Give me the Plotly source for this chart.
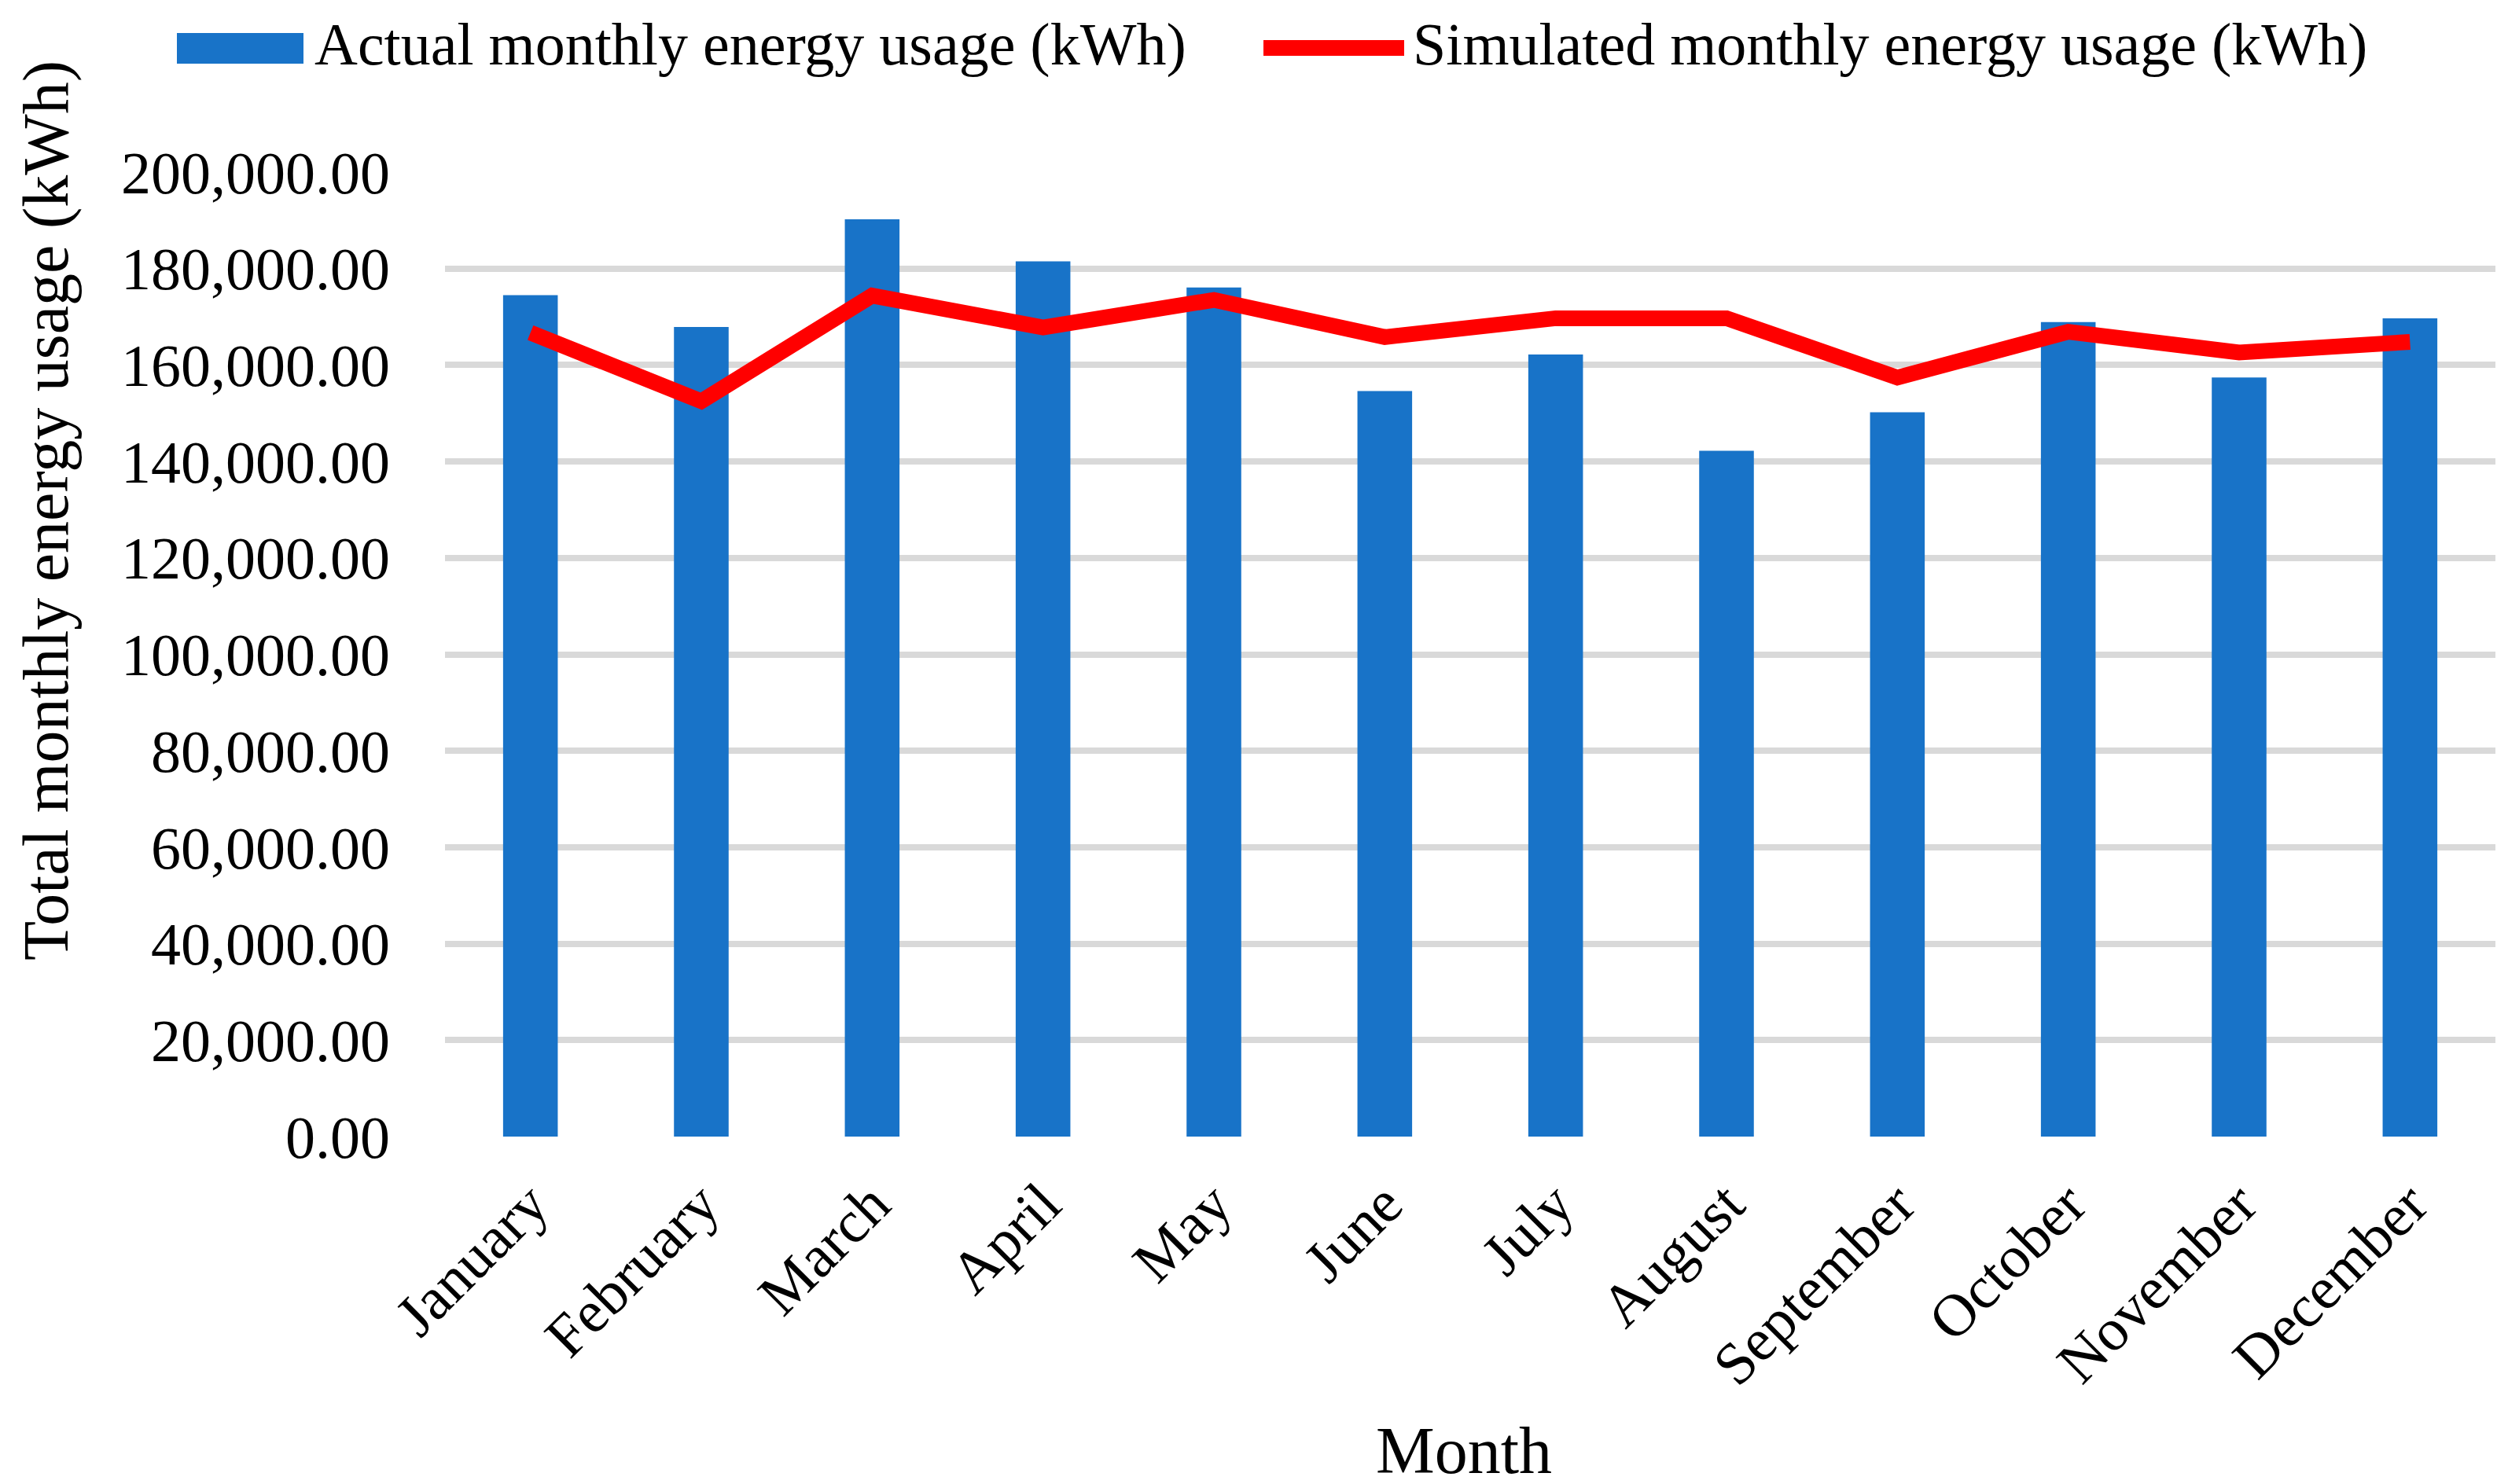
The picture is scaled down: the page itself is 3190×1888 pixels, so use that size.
import plotly.graph_objects as go

months = ["January", "February", "March", "April", "May", "June", "July",
          "August", "September", "October", "November", "December"]
actual_kwh = [174500, 167900, 190200, 181500, 176100, 154600, 162200,
              142200, 150200, 168900, 157400, 169700]
simulated_kwh = [166700, 152500, 174400, 167800, 173500, 165800, 169700,
                 169700, 157400, 166900, 162600, 164800]
y_ticks = [0, 20000, 40000, 60000, 80000, 100000, 120000, 140000,
           160000, 180000, 200000]
y_tick_labels = [f"{v:,.2f}" for v in y_ticks]

legend_actual = "Actual monthly energy usage (kWh)"
legend_sim = "Simulated monthly energy usage (kWh)"
x_title = "Month"
y_title = "Total monthly energy usage (kWh)"

FONT = "Liberation Serif, Times New Roman, serif"
BLUE = "#1873c8"
RED = "#ff0000"

W, H = 3190, 1888
ml, mr, mt, mb = 558, 24, 211, 450
PW, PH = W - ml - mr, H - mt - mb


def px(x):
    return (x - ml) / PW


def py(y):
    return (H - mb - y) / PH


fig = go.Figure()
fig.add_trace(go.Bar(x=months, y=actual_kwh, name=legend_actual,
                     marker=dict(color=BLUE, line=dict(width=0))))
fig.add_trace(go.Scatter(x=months, y=simulated_kwh, name=legend_sim,
                         mode="lines", line=dict(color=RED, width=20)))

fig.update_layout(
    width=W, height=H,
    margin=dict(l=ml, r=mr, t=mt, b=mb, autoexpand=False),
    paper_bgcolor="white", plot_bgcolor="white",
    font=dict(family=FONT, color="black", size=76),
    bargap=0.68,
    showlegend=False,
)
fig.update_xaxes(
    type="category", tickangle=-45, tickfont=dict(size=76),
    showgrid=False, showline=False, ticks="", ticklabelstandoff=25,
    automargin=False,
)
fig.update_yaxes(
    range=[0, 200000], tickvals=y_ticks, ticktext=y_tick_labels,
    tickfont=dict(size=76), showgrid=True, gridcolor="#d9d9d9", gridwidth=8,
    zeroline=False, showline=False, ticks="", ticklabelstandoff=69,
    automargin=False,
)

# Axis titles
fig.add_annotation(text=x_title, xref="paper", yref="paper",
                   x=px(1854), y=py(1886), xanchor="center", yanchor="bottom",
                   showarrow=False, font=dict(size=84, family=FONT))
fig.add_annotation(text=y_title, xref="paper", yref="paper", textangle=-90,
                   x=px(50), y=py(642), xanchor="center", yanchor="middle",
                   showarrow=False, font=dict(size=82, family=FONT))

# Legend (drawn to match reference proportions)
fig.add_shape(type="rect", xref="paper", yref="paper",
              x0=px(217), x1=px(378), y0=py(73), y1=py(34),
              fillcolor=BLUE, line=dict(width=0))
fig.add_shape(type="line", xref="paper", yref="paper",
              x0=px(1599), x1=px(1778), y0=py(53), y1=py(53),
              line=dict(color=RED, width=20))
fig.add_annotation(text=legend_actual, xref="paper", yref="paper",
                   x=px(390), y=py(48), xanchor="left", yanchor="middle",
                   showarrow=False, font=dict(size=76, family=FONT))
fig.add_annotation(text=legend_sim, xref="paper", yref="paper",
                   x=px(1787), y=py(48), xanchor="left", yanchor="middle",
                   showarrow=False, font=dict(size=76, family=FONT))

fig.write_html("out.html")
